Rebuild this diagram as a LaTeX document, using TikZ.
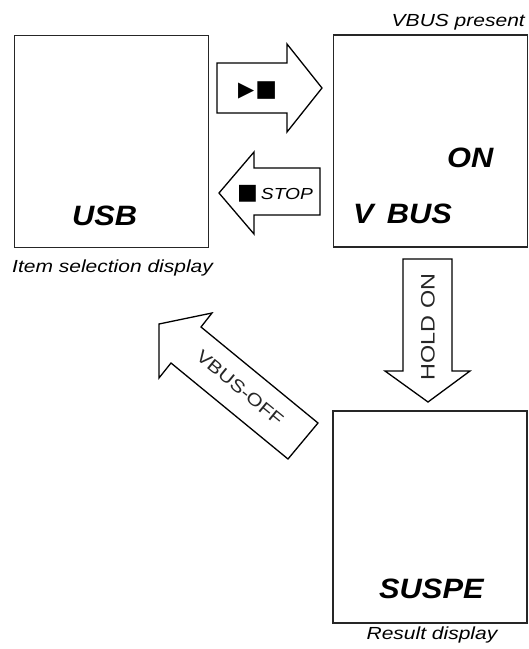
\documentclass[tikz,border=0pt]{standalone}
\usepackage{fontspec}
\setmainfont{Liberation Sans}
\newfontfamily\regfont[FakeStretch=1.2]{Liberation Sans}
\newfontfamily\bigfont[FakeStretch=1.1]{Liberation Sans}
\newfontfamily\symfont{DejaVu Sans}
\begin{document}
\begin{tikzpicture}[x=1pt,y=-1pt,
  box/.style={draw=black!85, line width=1.6pt, minimum width=194pt, minimum height=212pt, inner sep=0pt},
  blockarrow/.style={draw=black, line width=1.3pt, line join=miter, fill=white},
  bigtxt/.style={font=\bigfont\fontsize{28}{30}\selectfont\bfseries\itshape, inner sep=0pt, anchor=base west},
  captxt/.style={font=\regfont\fontsize{17.5}{20}\selectfont\itshape, inner sep=0pt},
  arrtxt/.style={font=\regfont\fontsize{17.5}{20}\selectfont, inner sep=0pt, text=black!85}]
\useasboundingbox (0,0) rectangle (529,649);
% boxes
\node[box] (usb) at (111.5,141.5) {};
\node[box] (vbus) at (430.5,141) {};
\node[box] (susp) at (430,517) {};
% labels in boxes
\node[bigtxt] (usbt) at (72,225) {USB};
\node[bigtxt] (ont) at (447,167) {ON};
\node[bigtxt] (vbust) at (353,223) {V\ \,BUS};
\node[bigtxt] (suspt) at (379,598) {SUSPE};
% captions
\node[captxt, anchor=base east] (cap1) at (525,26.5) {VBUS present};
\node[captxt, anchor=base west] (cap2) at (12,272) {Item selection display};
\node[captxt, anchor=base] (cap3) at (432,639) {Result display};
% right arrow
\draw[blockarrow] (217,63) -- (287,63) -- (287,44) -- (322,88) -- (287,132) -- (287,113) -- (217,113) -- cycle;
\node[inner sep=0pt, anchor=base west] (play) at (238,96) {{\symfont\fontsize{21}{20}\selectfont ▶}\hspace{1pt}{\symfont\fontsize{23}{20}\selectfont ■}};
% left arrow
\draw[blockarrow] (219,193) -- (254,152) -- (254,168) -- (320,168) -- (320,215) -- (254,215) -- (254,234) -- cycle;
\node[inner sep=0pt, anchor=base west] (stop) at (237,199) {{\symfont\fontsize{22}{20}\selectfont ■}\hspace{3pt}{\regfont\fontsize{16}{18}\selectfont\itshape STOP}};
% down arrow
\draw[blockarrow] (403,259) -- (452,259) -- (452,371) -- (470,371) -- (428,402) -- (385,371) -- (403,371) -- cycle;
\node[arrtxt, rotate=90, font=\regfont\fontsize{19.5}{20}\selectfont] (hold) at (428,327) {HOLD ON};
% diagonal arrow
\draw[blockarrow] (159,324) -- (212,313) -- (201,327) -- (318,423) -- (288,459) -- (171,363) -- (159,378) -- cycle;
\node[arrtxt, rotate=-39.4] (off) at (240,388) {VBUS-OFF};
\end{tikzpicture}
\end{document}
